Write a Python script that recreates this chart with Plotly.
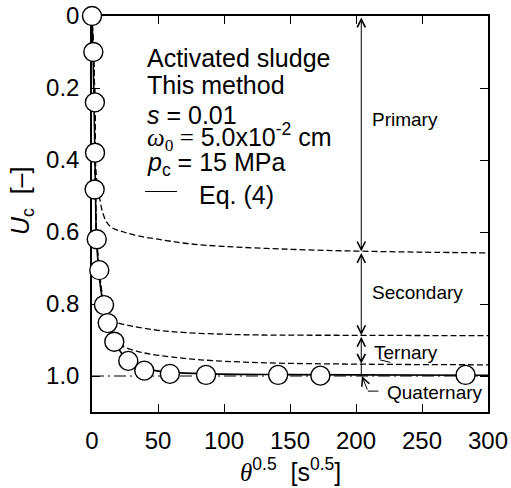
import plotly.graph_objects as go

# Measured consolidation ratio vs square root of time
theta_obs = [0, 1.0, 2.2, 2.3, 2.0, 3.6, 5.5, 9.1, 11.9, 16.9, 27.5, 39.6, 59, 86.4, 141, 173, 283]
uc_obs = [0, 0.10, 0.24, 0.38, 0.482, 0.62, 0.706, 0.803, 0.853, 0.905, 0.958, 0.985, 0.994, 0.997, 0.997, 0.999, 0.997]

# Eq. (4) curve
theta_eq = [0, 0.8, 1.5, 2.2, 2.6, 3.4, 4.5, 6, 8, 10, 13, 17, 22, 28, 35, 45, 60, 90, 140, 200, 300]
uc_eq = [0, 0.10, 0.24, 0.38, 0.48, 0.62, 0.68, 0.74, 0.79, 0.83, 0.87, 0.905, 0.935, 0.958, 0.973, 0.983, 0.99, 0.994, 0.996, 0.997, 0.998]

# Cumulative contributions: primary, primary+secondary, primary+secondary+ternary
theta_p = [0, 1.0, 2.2, 2.6, 4, 6, 8, 11, 15, 24, 35, 50, 72, 100, 150, 200, 250, 300]
uc_p = [0, 0.10, 0.24, 0.40, 0.47, 0.51, 0.545, 0.572, 0.588, 0.60, 0.611, 0.62, 0.632, 0.64, 0.648, 0.653, 0.656, 0.658]

theta_s = [0, 1.0, 2.2, 2.3, 2.6, 3.6, 5.5, 8, 11, 14, 20, 31, 50, 69, 100, 127, 200, 300]
uc_s = [0, 0.10, 0.24, 0.38, 0.48, 0.62, 0.706, 0.79, 0.83, 0.845, 0.853, 0.862, 0.873, 0.879, 0.884, 0.886, 0.887, 0.888]

theta_t = [0, 1.0, 2.2, 2.3, 2.6, 3.6, 5.5, 9, 12, 17, 22, 26, 35, 44, 60, 82, 127, 200, 300]
uc_t = [0, 0.10, 0.24, 0.38, 0.48, 0.62, 0.706, 0.803, 0.853, 0.903, 0.915, 0.922, 0.932, 0.939, 0.947, 0.955, 0.963, 0.967, 0.969]

theta_end = [0, 300]
uc_end = [1.0, 1.0]

# Stage boundaries marked by the vertical arrows
arrow_x = 204
stage_bounds = [0, 0.654, 0.887, 0.966, 1.0]
stage_names = ["Primary", "Secondary", "Ternary", "Quaternary"]

x_ticks = [0, 50, 100, 150, 200, 250, 300]
y_ticks = [0, 0.2, 0.4, 0.6, 0.8, 1.0]
y_ticktext = ["0", "0.2", "0.4", "0.6", "0.8", "1.0"]

FONT = "Liberation Sans, Arial, sans-serif"
SERIF = "Liberation Serif, Times New Roman, serif"

fig = go.Figure()

fig.add_trace(go.Scatter(x=theta_end, y=uc_end, mode="lines",
                         line=dict(color="black", width=1, dash="12px,4px,2px,4px")))
for tx, ty in [(theta_p, uc_p), (theta_s, uc_s), (theta_t, uc_t)]:
    fig.add_trace(go.Scatter(x=tx, y=ty, mode="lines", line_shape="spline",
                             line=dict(color="black", width=1.3, dash="6px,3px")))
fig.add_trace(go.Scatter(x=theta_eq, y=uc_eq, mode="lines", line_shape="spline",
                         line=dict(color="black", width=1.6)))
fig.add_trace(go.Scatter(x=theta_obs, y=uc_obs, mode="markers", cliponaxis=False,
                         marker=dict(symbol="circle", size=19, color="white",
                                     line=dict(color="black", width=1.4))))

ann = []
# double-headed arrows for the first three stages
for i in range(3):
    ann.append(dict(x=arrow_x, y=stage_bounds[i + 1], ax=arrow_x, ay=stage_bounds[i],
                    xref="x", yref="y", axref="x", ayref="y", text="",
                    showarrow=True, arrowside="end+start", arrowhead=5, startarrowhead=5,
                    arrowsize=1.6, startarrowsize=1.6, arrowwidth=1, arrowcolor="black",
                    standoff=0, startstandoff=0))
# quaternary span line and leader
fig.add_shape(type="line", x0=arrow_x, x1=arrow_x, y0=stage_bounds[3], y1=stage_bounds[4],
              xref="x", yref="y", line=dict(color="black", width=1))
ann.append(dict(x=arrow_x + 0.5, y=1.0, ax=arrow_x + 5, ay=1.042,
                xref="x", yref="y", axref="x", ayref="y", text="",
                showarrow=True, arrowhead=5, arrowsize=1.6, arrowwidth=1,
                arrowcolor="black", standoff=0))
fig.add_shape(type="line", x0=arrow_x + 5, x1=arrow_x + 13, y0=1.042, y1=1.042,
              xref="x", yref="y", line=dict(color="black", width=1))
# small leader under Ternary
fig.add_shape(type="line", x0=arrow_x + 14, x1=arrow_x + 22, y0=0.955, y1=0.962,
              xref="x", yref="y", line=dict(color="black", width=1))

label_y = [0.288, 0.768, 0.934, 1.045]
label_x = [210.6, 210.6, 212, 222]
for name, lx, ly in zip(stage_names, label_x, label_y):
    ann.append(dict(x=lx, y=ly, xref="x", yref="y", text=name, showarrow=False,
                    xanchor="left", yanchor="middle",
                    font=dict(family=FONT, size=19, color="black")))

# condition text block
cond = [
    ("Activated sludge", 0.116),
    ("This method", 0.191),
    ("<i>s</i> = 0.01", 0.276),
    (f"<span style=\"font-family:{SERIF}\"><i>ω</i><sub>0</sub> =</span> 5.0x10<sup>-2</sup> cm", 0.336),
    ("<i>p</i><sub>c</sub> = 15 MPa", 0.412),
]
for txt, ty in cond:
    ann.append(dict(x=40.2, y=ty, xref="x", yref="y", text=txt, showarrow=False,
                    xanchor="left", yanchor="middle",
                    font=dict(family=FONT, size=25, color="black")))
ann.append(dict(x=79.5, y=0.496, xref="x", yref="y", text="Eq. (4)", showarrow=False,
                xanchor="left", yanchor="middle",
                font=dict(family=FONT, size=25, color="black")))
fig.add_shape(type="line", x0=40.2, x1=64.4, y0=0.4875, y1=0.4875,
              xref="x", yref="y", line=dict(color="black", width=1.2))

# axis titles
ann.append(dict(x=-0.177, y=0.535, xref="paper", yref="paper", textangle=-90,
                text="<i>U</i><sub>c</sub>  [–]", showarrow=False,
                xanchor="center", yanchor="middle",
                font=dict(family=FONT, size=25, color="black")))
ann.append(dict(x=0.5, y=-0.146, xref="paper", yref="paper",
                text=f"<span style=\"font-family:{SERIF}\"><i>θ</i></span><sup>0.5</sup>  [s<sup>0.5</sup>]",
                showarrow=False, xanchor="center", yanchor="middle",
                font=dict(family=FONT, size=25, color="black")))

axis_common = dict(showgrid=False, zeroline=False, showline=True, linecolor="black",
                   linewidth=1.5, mirror="ticks", ticks="inside", ticklen=8,
                   tickwidth=1.2, tickcolor="black", layer="below traces",
                   automargin=False,
                   tickfont=dict(family=FONT, size=24, color="black"))

fig.update_layout(
    width=511, height=488, autosize=False,
    margin=dict(l=92, r=23, t=16, b=76),
    paper_bgcolor="white", plot_bgcolor="white",
    showlegend=False,
    annotations=ann,
    xaxis=dict(range=[0, 300], tickvals=x_ticks, ticklabelstandoff=6, **axis_common),
    yaxis=dict(range=[1.1, 0], tickvals=y_ticks, ticktext=y_ticktext,
               ticklabelstandoff=6, **axis_common),
)

fig.write_html("out.html")
